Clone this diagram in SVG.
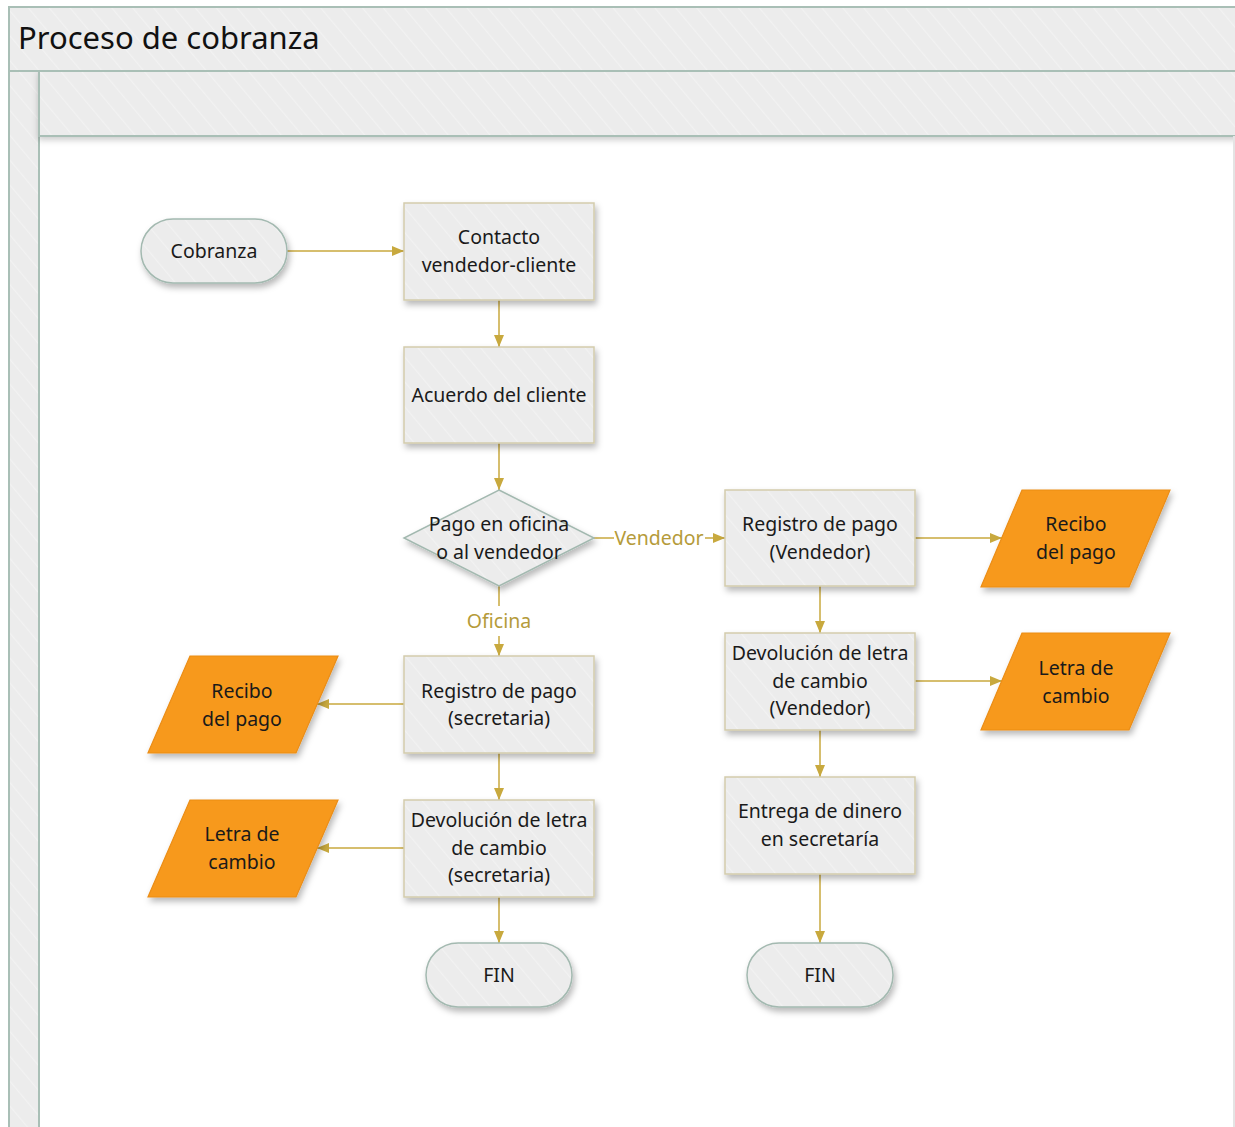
<svg xmlns="http://www.w3.org/2000/svg" width="1235" height="1127" viewBox="0 0 1235 1127">
  <defs>
    <pattern id="hatch" width="16" height="16" patternUnits="userSpaceOnUse" patternTransform="rotate(-40)">
      <rect width="16" height="16" fill="#ececec"/>
      <line x1="0" y1="0" x2="0" y2="16" stroke="#f2f2f2" stroke-width="2.5"/>
    </pattern>
    <filter id="shadow" x="-20%" y="-20%" width="140%" height="150%">
      <feDropShadow dx="2" dy="4" stdDeviation="3" flood-color="#000" flood-opacity="0.28"/>
    </filter>
    <filter id="bandShadow" x="-5%" y="-20%" width="110%" height="150%">
      <feDropShadow dx="0" dy="3" stdDeviation="3" flood-color="#000" flood-opacity="0.2"/>
    </filter>
    <marker id="arrow" viewBox="0 0 12 10" refX="12" refY="5" markerWidth="12" markerHeight="10" markerUnits="userSpaceOnUse" orient="auto">
      <path d="M0,0 L12,5 L0,10 Z" fill="#c8a93e"/>
    </marker>
  </defs>
  <style>
    .band { fill: url(#hatch); stroke: #a9bfb6; stroke-width: 2; }
    .proc { fill: url(#hatch); stroke: #d3ccac; stroke-width: 1.5; filter: url(#shadow); }
    .term { fill: url(#hatch); stroke: #a3b9b0; stroke-width: 1.5; filter: url(#shadow); }
    .data { fill: #f7991f; stroke: #eb8d14; stroke-width: 1.2; filter: url(#shadow); }
    .lbl { font-family: "Noto Sans", "Open Sans", "Liberation Sans", sans-serif; font-size: 19.5px; fill: #1a1a1a; text-anchor: middle; }
    .edge { stroke: #c8a93e; stroke-width: 1.5; fill: none; }
    .elbl { font-family: "Noto Sans", "Open Sans", "Liberation Sans", sans-serif; font-size: 19.5px; fill: #b59b3a; text-anchor: middle; }
    .title { font-family: "Noto Sans", "Open Sans", "Liberation Sans", sans-serif; font-size: 31px; fill: #111; }
  </style>

  <rect width="1235" height="1127" fill="#ffffff"/>

  <!-- pool and lane frame -->
  <g id="pool">
    <rect class="band" x="9" y="71" width="30" height="1070"/>
    <rect class="band" x="39" y="71" width="1210" height="65" filter="url(#bandShadow)"/>
    <rect class="band" x="9" y="7" width="1240" height="64"/>
    <line x1="1234" y1="136" x2="1234" y2="1127" stroke="#e4e4e4" stroke-width="2"/>
    <text class="title" x="18" y="49">Proceso de cobranza</text>
  </g>

  <!-- connectors -->
  <g id="connectors">
    <line class="edge" x1="287" y1="251" x2="404" y2="251" marker-end="url(#arrow)"/>
    <line class="edge" x1="499" y1="300" x2="499" y2="347" marker-end="url(#arrow)"/>
    <line class="edge" x1="499" y1="443" x2="499" y2="490" marker-end="url(#arrow)"/>
    <line class="edge" x1="594" y1="538" x2="614" y2="538"/>
    <line class="edge" x1="705" y1="538" x2="725" y2="538" marker-end="url(#arrow)"/>
    <text class="elbl" x="659" y="545">Vendedor</text>
    <line class="edge" x1="499" y1="586" x2="499" y2="606"/>
    <line class="edge" x1="499" y1="636" x2="499" y2="656" marker-end="url(#arrow)"/>
    <text class="elbl" x="499" y="628">Oficina</text>
    <line class="edge" x1="915" y1="538" x2="1002" y2="538" marker-end="url(#arrow)"/>
    <line class="edge" x1="820" y1="586" x2="820" y2="633" marker-end="url(#arrow)"/>
    <line class="edge" x1="915" y1="681" x2="1002" y2="681" marker-end="url(#arrow)"/>
    <line class="edge" x1="820" y1="730" x2="820" y2="777" marker-end="url(#arrow)"/>
    <line class="edge" x1="820" y1="874" x2="820" y2="943" marker-end="url(#arrow)"/>
    <line class="edge" x1="404" y1="704" x2="317" y2="704" marker-end="url(#arrow)"/>
    <line class="edge" x1="499" y1="753" x2="499" y2="800" marker-end="url(#arrow)"/>
    <line class="edge" x1="404" y1="848" x2="317" y2="848" marker-end="url(#arrow)"/>
    <line class="edge" x1="499" y1="897" x2="499" y2="943" marker-end="url(#arrow)"/>
  </g>

  <g id="cobranza">
    <rect class="term" x="141" y="219" width="146" height="64" rx="32"/>
    <text class="lbl" x="214" y="258">Cobranza</text>
  </g>

  <g id="contacto">
    <rect class="proc" x="404" y="203" width="190" height="97"/>
    <text class="lbl" x="499" y="244">Contacto</text>
    <text class="lbl" x="499" y="272">vendedor-cliente</text>
  </g>

  <g id="acuerdo">
    <rect class="proc" x="404" y="347" width="190" height="96"/>
    <text class="lbl" x="499" y="402">Acuerdo del cliente</text>
  </g>

  <g id="decision">
    <polygon class="term" points="499,490 594,538 499,586 404,538"/>
    <text class="lbl" x="499" y="531">Pago en oficina</text>
    <text class="lbl" x="499" y="559">o al vendedor</text>
  </g>

  <g id="registro-vendedor">
    <rect class="proc" x="725" y="490" width="190" height="96"/>
    <text class="lbl" x="820" y="531">Registro de pago</text>
    <text class="lbl" x="820" y="559">(Vendedor)</text>
  </g>

  <g id="recibo-vendedor">
    <polygon class="data" points="1022,490 1170,490 1129,587 981,587"/>
    <text class="lbl" x="1076" y="531">Recibo</text>
    <text class="lbl" x="1076" y="559">del pago</text>
  </g>

  <g id="devolucion-vendedor">
    <rect class="proc" x="725" y="633" width="190" height="97"/>
    <text class="lbl" x="820" y="660">Devolución de letra</text>
    <text class="lbl" x="820" y="688">de cambio</text>
    <text class="lbl" x="820" y="715">(Vendedor)</text>
  </g>

  <g id="letra-vendedor">
    <polygon class="data" points="1022,633 1170,633 1129,730 981,730"/>
    <text class="lbl" x="1076" y="675">Letra de</text>
    <text class="lbl" x="1076" y="703">cambio</text>
  </g>

  <g id="entrega">
    <rect class="proc" x="725" y="777" width="190" height="97"/>
    <text class="lbl" x="820" y="818">Entrega de dinero</text>
    <text class="lbl" x="820" y="846">en secretaría</text>
  </g>

  <g id="fin-vendedor">
    <rect class="term" x="747" y="943" width="146" height="64" rx="32"/>
    <text class="lbl" x="820" y="982">FIN</text>
  </g>

  <g id="registro-secretaria">
    <rect class="proc" x="404" y="656" width="190" height="97"/>
    <text class="lbl" x="499" y="698">Registro de pago</text>
    <text class="lbl" x="499" y="725">(secretaria)</text>
  </g>

  <g id="recibo-secretaria">
    <polygon class="data" points="190,656 338,656 296,753 148,753"/>
    <text class="lbl" x="242" y="698">Recibo</text>
    <text class="lbl" x="242" y="726">del pago</text>
  </g>

  <g id="devolucion-secretaria">
    <rect class="proc" x="404" y="800" width="190" height="97"/>
    <text class="lbl" x="499" y="827">Devolución de letra</text>
    <text class="lbl" x="499" y="855">de cambio</text>
    <text class="lbl" x="499" y="882">(secretaria)</text>
  </g>

  <g id="letra-secretaria">
    <polygon class="data" points="190,800 338,800 296,897 148,897"/>
    <text class="lbl" x="242" y="841">Letra de</text>
    <text class="lbl" x="242" y="869">cambio</text>
  </g>

  <g id="fin-secretaria">
    <rect class="term" x="426" y="943" width="146" height="64" rx="32"/>
    <text class="lbl" x="499" y="982">FIN</text>
  </g>
</svg>
